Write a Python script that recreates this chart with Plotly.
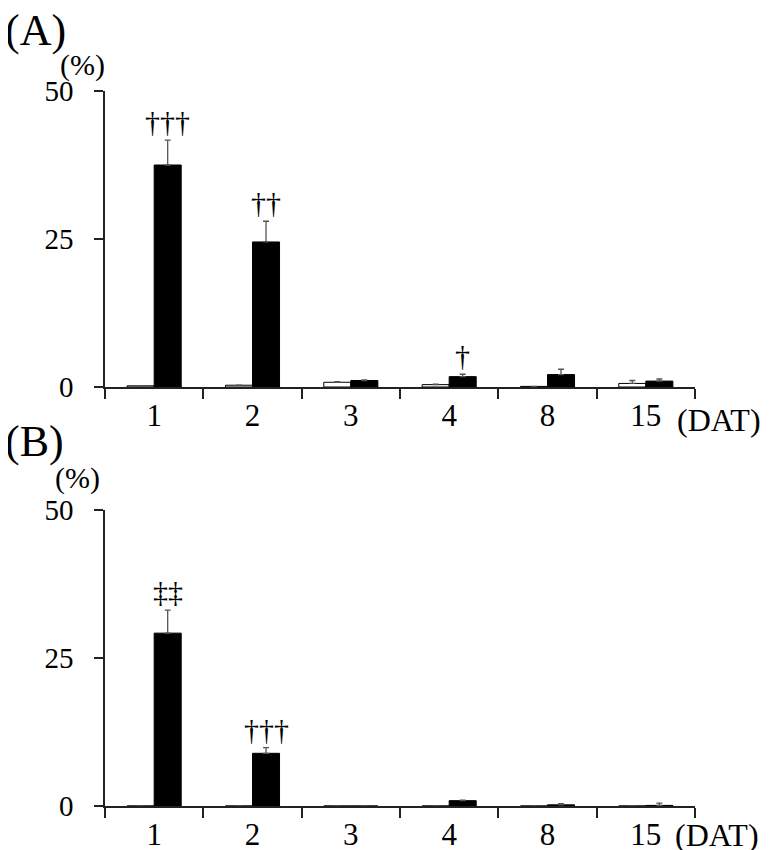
import plotly.graph_objects as go
from plotly.subplots import make_subplots

days = ["1", "2", "3", "4", "8", "15"]

# panel A
a_white = [0.2, 0.3, 0.8, 0.4, 0.1, 0.6]
a_white_err = [0.0, 0.0, 0.1, 0.1, 0.0, 0.5]
a_black = [37.5, 24.5, 1.1, 1.75, 2.1, 1.0]
a_black_err = [4.2, 3.5, 0.1, 0.4, 0.9, 0.35]
a_marks = ["†††", "††", "", "†", "", ""]

# panel B
b_white = [0.0, 0.0, 0.0, 0.0, 0.0, 0.0]
b_white_err = [0.0, 0.0, 0.0, 0.0, 0.0, 0.0]
b_black = [29.2, 8.9, 0.0, 0.9, 0.2, 0.1]
b_black_err = [3.9, 0.95, 0.0, 0.1, 0.2, 0.4]
b_marks = ["‡‡", "†††", "", "", "", ""]

FONT = "Liberation Serif"
W, H = 761, 842  # page body has an 8px margin
xs = list(range(1, len(days) + 1))


def px(x):
    return (x - 8) / W


def py(y):
    return 1 - (y - 8) / H


fig = make_subplots(rows=2, cols=1)

panels = [
    (1, a_white, a_white_err, a_black, a_black_err, a_marks),
    (2, b_white, b_white_err, b_black, b_black_err, b_marks),
]
for row, w, we, b, be, marks in panels:
    fig.add_trace(go.Bar(
        x=xs, y=w, marker=dict(color="white", line=dict(color="black", width=1)),
        error_y=dict(type="data", array=we, arrayminus=[0] * len(we), symmetric=False,
                     color="#555", thickness=1.3, width=3),
        showlegend=False), row=row, col=1)
    fig.add_trace(go.Bar(
        x=xs, y=b, marker=dict(color="black", line=dict(color="black", width=1)),
        error_y=dict(type="data", array=be, arrayminus=[0] * len(be), symmetric=False,
                     color="#555", thickness=1.3, width=3),
        showlegend=False), row=row, col=1)
    xref = "x" if row == 1 else "x2"
    yref = "y" if row == 1 else "y2"
    for i, m in enumerate(marks):
        if m:
            fig.add_annotation(x=xs[i] + 0.1375, y=b[i] + be[i], xref=xref, yref=yref,
                               text=m, showarrow=False, yanchor="bottom", yshift=0,
                               font=dict(family=FONT, size=30, color="black"))

axis_common = dict(showline=True, linecolor="#222", linewidth=1.5, showgrid=False,
                   zeroline=False, automargin=False)
for row, (top, bot) in [(1, (91, 387)), (2, (510, 806))]:
    fig.update_yaxes(axis_common, range=[0, 50], tickvals=[0, 25, 50], ticks="outside",
                     ticklen=9, tickcolor="#222", tickwidth=1.5, ticklabelstandoff=15,
                     tickfont=dict(family=FONT, size=29, color="black"),
                     domain=[py(bot), py(top)], row=row, col=1)
    fig.update_xaxes(axis_common, range=[0.5, 6.5], tickvals=xs, ticktext=days,
                     ticks="", ticklabelstandoff=0,
                     tickfont=dict(family=FONT, size=31, color="black"),
                     minor=dict(ticks="outside", tick0=0.5, dtick=1, ticklen=10,
                                tickcolor="#222", tickwidth=1.5),
                     domain=[px(105), px(695)], row=row, col=1)

labels = [
    ("(A)", 3, 31, 44), ("(%)", 58, 65, 30), ("(DAT)", 675, 420, 32),
    ("(B)", 3, 441, 44), ("(%)", 53, 478, 30), ("(DAT)", 673, 835, 32),
]
for txt, lx, ly, sz in labels:
    fig.add_annotation(x=px(lx), y=py(ly), xref="paper", yref="paper", text=txt,
                       showarrow=False, xanchor="left", yanchor="middle",
                       font=dict(family=FONT, size=sz, color="black"))

fig.update_layout(width=W, height=H, margin=dict(l=0, r=0, t=0, b=0),
                  barmode="group", bargap=0.45, bargroupgap=0,
                  plot_bgcolor="white", paper_bgcolor="white")

fig.write_html("out.html")
